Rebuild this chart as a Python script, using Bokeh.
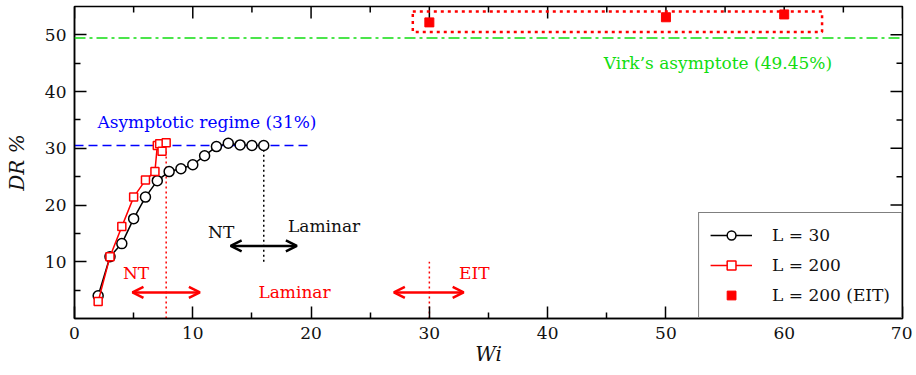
from bokeh.plotting import figure
from bokeh.models import (Range1d, Legend, LegendItem, Label, Span,
                          Arrow, OpenHead, BoxAnnotation, FixedTicker)
from bokeh.embed import file_html
from bokeh.resources import INLINE

# ---- data ----
wi_30 = [2, 3, 4, 5, 6, 7, 8, 9, 10, 11, 12, 13, 14, 15, 16]
dr_30 = [4.0, 10.9, 13.2, 17.6, 21.4, 24.3, 25.9, 26.4, 27.1, 28.7, 30.3, 30.9, 30.6, 30.5, 30.5]

wi_200 = [2, 3, 4, 5, 6, 6.8, 7.0, 7.2, 7.4, 7.75]
dr_200 = [3.0, 10.9, 16.2, 21.4, 24.4, 25.9, 30.5, 30.8, 29.5, 31.0]

wi_eit = [30, 50, 60]
dr_eit = [52.2, 53.1, 53.6]

asymptote_dr = 30.5          # asymptotic regime (31%)
asymptote_wi_end = 20
virk_dr = 49.45              # Virk's asymptote
transition_wi_200 = 7.75     # NT -> laminar, L = 200
transition_wi_30 = 16.0      # NT -> laminar, L = 30
transition_wi_eit = 30.0     # EIT

x_ticks = [0, 10, 20, 30, 40, 50, 60, 70]
x_minor = [5, 15, 25, 35, 45, 55, 65]
y_ticks = [0, 10, 20, 30, 40, 50]
y_minor = [5, 15, 25, 35, 45]
X_MAX = 70
Y_MAX = 55

W, H = 912, 372
B_LEFT, B_RIGHT, B_TOP, B_BOTTOM = 74, 10, 6, 54
# tick lengths (px) expressed in data units for the mirrored top/right ticks
PX_Y = Y_MAX / (H - B_TOP - B_BOTTOM)
PX_X = X_MAX / (W - B_LEFT - B_RIGHT)

FONT = "DejaVu Serif"
RED = "#ff0000"
BLUE = "#0000ff"
GREEN = "#11dd11"
INK = "#111111"

p = figure(width=W, height=H, output_backend="svg", toolbar_location=None,
           x_range=Range1d(0, X_MAX), y_range=Range1d(0, Y_MAX),
           min_border_left=B_LEFT, min_border_right=B_RIGHT,
           min_border_top=B_TOP, min_border_bottom=B_BOTTOM)
p.background_fill_color = "white"
p.border_fill_color = "white"
p.grid.visible = False
p.outline_line_color = "black"
p.outline_line_width = 1.5

for ax in (p.xaxis[0], p.yaxis[0]):
    ax.axis_line_color = "black"
    ax.axis_line_width = 1.5
    ax.major_tick_in = 12
    ax.major_tick_out = 0
    ax.minor_tick_in = 6
    ax.minor_tick_out = 0
    ax.major_tick_line_width = 1.5
    ax.minor_tick_line_width = 1.5
    ax.major_label_text_font = FONT
    ax.major_label_text_font_size = "17px"
    ax.major_label_text_color = INK
    ax.axis_label_text_font = FONT
    ax.axis_label_text_font_style = "italic"
    ax.axis_label_text_font_size = "20px"
    ax.axis_label_text_color = INK

p.xaxis.ticker = FixedTicker(ticks=x_ticks, minor_ticks=x_minor)
p.yaxis.ticker = FixedTicker(ticks=y_ticks[1:], minor_ticks=y_minor)
p.xaxis.major_label_standoff = 8
p.yaxis.major_label_standoff = 8
p.xaxis.axis_label = "Wi"
p.yaxis.axis_label = "DR %"
p.xaxis.axis_label_standoff = 0
p.yaxis.axis_label_standoff = 13

# mirrored ticks on the top and right frame edges
p.segment(x0=x_ticks, y0=[Y_MAX] * len(x_ticks), x1=x_ticks,
          y1=[Y_MAX - 12 * PX_Y] * len(x_ticks), line_color="black", line_width=1.5)
p.segment(x0=x_minor, y0=[Y_MAX] * len(x_minor), x1=x_minor,
          y1=[Y_MAX - 6 * PX_Y] * len(x_minor), line_color="black", line_width=1.5)
p.segment(x0=[X_MAX] * len(y_ticks), y0=y_ticks, x1=[X_MAX - 12 * PX_X] * len(y_ticks),
          y1=y_ticks, line_color="black", line_width=1.5)
p.segment(x0=[X_MAX] * len(y_minor), y0=y_minor, x1=[X_MAX - 6 * PX_X] * len(y_minor),
          y1=y_minor, line_color="black", line_width=1.5)

# reference lines
p.add_layout(Span(location=virk_dr, dimension="width", line_color=GREEN,
                  line_width=1.5, line_dash="11 4 3 4"))
p.segment(x0=[0], y0=[asymptote_dr], x1=[asymptote_wi_end], y1=[asymptote_dr],
          line_color=BLUE, line_width=1.5, line_dash="9 5")
p.segment(x0=[transition_wi_200], y0=[0], x1=[transition_wi_200], y1=[29.5],
          line_color=RED, line_width=1.5, line_dash="2 3")
p.segment(x0=[transition_wi_30], y0=[10], x1=[transition_wi_30], y1=[asymptote_dr],
          line_color="black", line_width=1.5, line_dash="2 3")
p.segment(x0=[transition_wi_eit], y0=[0], x1=[transition_wi_eit], y1=[10],
          line_color=RED, line_width=1.5, line_dash="2 3")

# dotted box around EIT points
p.add_layout(BoxAnnotation(left=28.6, right=63.2, bottom=50.5, top=54.1,
                           fill_alpha=0, line_alpha=1, line_color=RED,
                           line_width=2.5, line_dash="3 4"))

# data
l30 = p.line(wi_30, dr_30, line_color="black", line_width=1.5)
s30 = p.scatter(wi_30, dr_30, marker="circle", size=10, fill_color="white",
                line_color="black", line_width=1.5)
l200 = p.line(wi_200, dr_200, line_color=RED, line_width=1.5)
s200 = p.scatter(wi_200, dr_200, marker="square", size=8, fill_color="white",
                 line_color=RED, line_width=1.5)
seit = p.scatter(wi_eit, dr_eit, marker="square", size=9, fill_color=RED,
                 line_color=RED)

# arrows
def dbl_arrow(x0, x1, y, color):
    p.add_layout(Arrow(start=OpenHead(size=11, line_color=color, line_width=2.5),
                       end=OpenHead(size=11, line_color=color, line_width=2.5),
                       x_start=x0, y_start=y, x_end=x1, y_end=y,
                       line_color=color, line_width=2.5))

dbl_arrow(13.2, 18.8, 12.8, "black")
dbl_arrow(4.9, 10.6, 4.6, RED)
dbl_arrow(27.0, 32.9, 4.6, RED)

def label(x, y, text, color, align="center"):
    p.add_layout(Label(x=x, y=y, text=text, text_color=color, text_font=FONT,
                       text_font_size="17px", text_align=align,
                       text_baseline="middle"))

label(11.2, 34.6, "Asymptotic regime (31%)", BLUE)
label(54.4, 45.0, "Virk’s asymptote (49.45%)", GREEN)
label(12.4, 15.2, "NT", INK)
label(21.1, 16.3, "Laminar", INK)
label(5.2, 8.1, "NT", RED)
label(18.6, 4.6, "Laminar", RED)
label(33.8, 8.1, "EIT", RED)

legend = Legend(items=[
    LegendItem(label="L = 30", renderers=[l30, s30]),
    LegendItem(label="L = 200", renderers=[l200, s200]),
    LegendItem(label="L = 200 (EIT)", renderers=[seit]),
], location="bottom_right")
legend.margin = 0
legend.padding = 11
legend.spacing = 8
legend.glyph_width = 42
legend.glyph_height = 22
legend.label_height = 22
legend.label_standoff = 20
legend.label_text_font = FONT
legend.label_text_font_size = "17px"
legend.label_text_color = INK
legend.border_line_color = "black"
legend.border_line_width = 1.5
legend.background_fill_alpha = 1
p.add_layout(legend)

open("out.html", "w").write(file_html(p, INLINE))
